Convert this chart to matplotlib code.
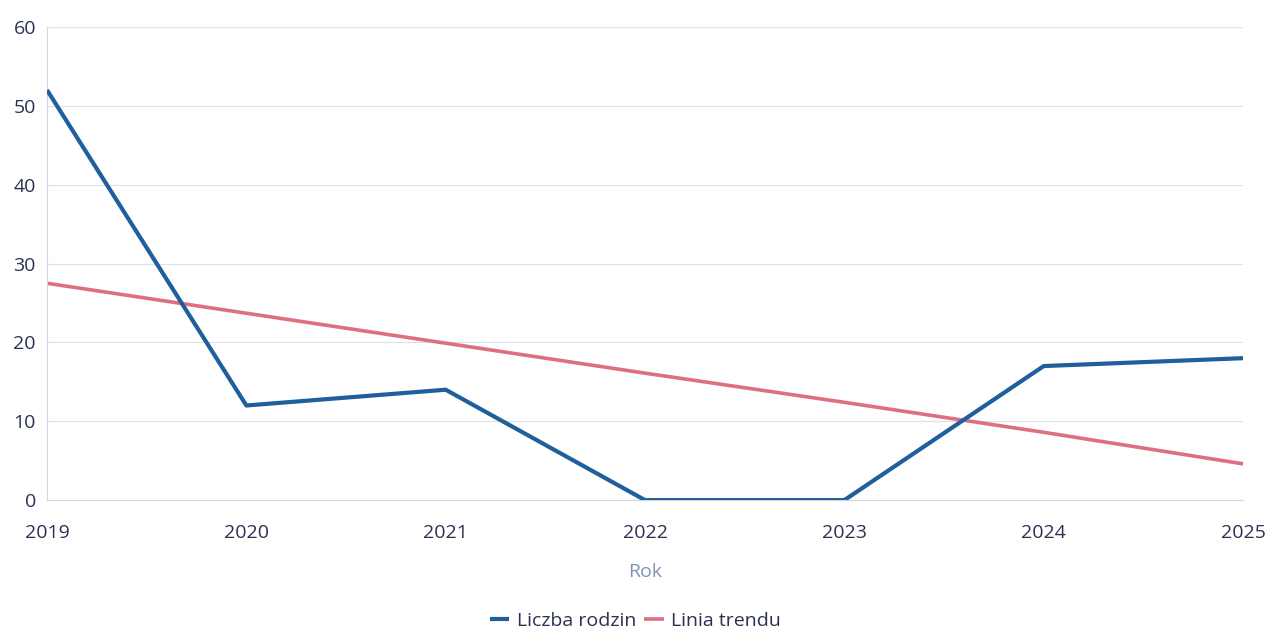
import numpy as np
import matplotlib
matplotlib.use("Agg")
import matplotlib.pyplot as plt

# === Data ===
years = ["2019", "2020", "2021", "2022", "2023", "2024", "2025"]
families = [52, 12, 14, 0, 0, 17, 18]          # Liczba rodzin
trend = [27.5, 23.7, 19.9, 16.1, 12.4, 8.6, 4.6]  # Linia trendu

BLUE = "#1f5f9c"
PINK = "#de6f82"
TEXT = "#2b3152"

plt.rcParams["font.family"] = ["Open Sans", "DejaVu Sans"]

fig = plt.figure(figsize=(12.71, 6.42), dpi=100)
ax = fig.add_axes([0.037, 0.221, 0.941, 0.737])

x = np.arange(len(years))
ax.plot(x, families, color=BLUE, lw=3.0, label="Liczba rodzin", solid_capstyle="butt", zorder=3)
ax.plot(x, trend, color=PINK, lw=2.6, label="Linia trendu", solid_capstyle="butt", zorder=2)

ax.set_xlim(0, len(years) - 1)
ax.set_ylim(0, 60)
ax.set_yticks(range(0, 61, 10))
ax.set_xticks(x)
ax.set_xticklabels(years)
ax.grid(axis="y", color="#dde1ea", lw=0.9)
ax.set_axisbelow(True)

for s in ["top", "right"]:
    ax.spines[s].set_visible(False)
ax.spines["left"].set_color("#d3d8e3")
ax.spines["bottom"].set_color("#d3d8e3")
ax.tick_params(length=0, labelsize=14, colors=TEXT)
ax.tick_params(axis="y", pad=8)
ax.tick_params(axis="x", pad=17)

ax.set_xlabel("Rok", fontsize=14, color="#7f93b5", labelpad=15)

leg = fig.legend(loc="center", bbox_to_anchor=(0.5, 0.033), ncol=2, frameon=False,
                 fontsize=14, handlelength=1.0, handletextpad=0.4, columnspacing=0.4)
for t in leg.get_texts():
    t.set_color(TEXT)

fig.savefig("out.png", dpi=100)
